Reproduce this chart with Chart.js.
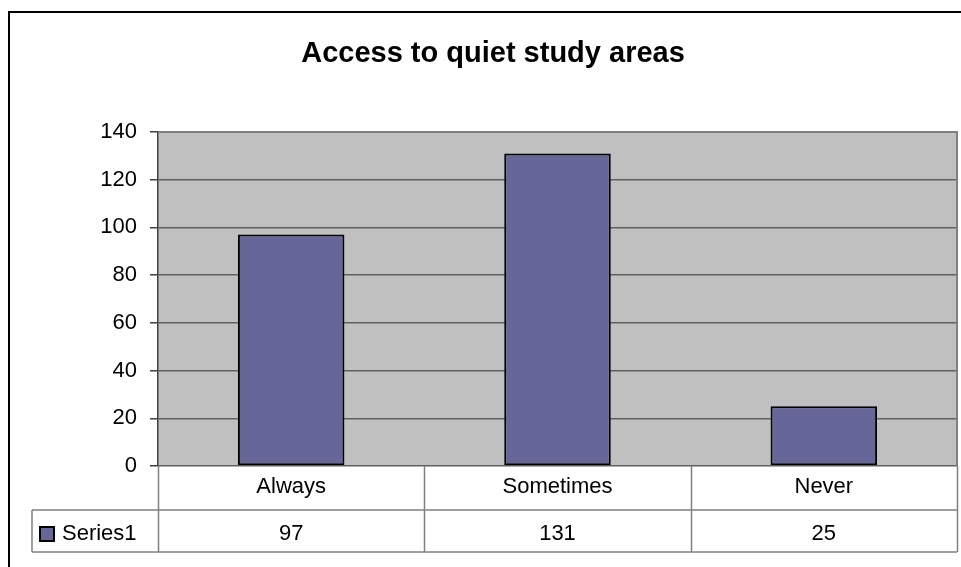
<!DOCTYPE html>
<html>
<head>
<meta charset="utf-8">
<script src="https://cdn.jsdelivr.net/npm/chart.js@4/dist/chart.umd.min.js"></script>
<style>
  html, body { margin: 0; padding: 0; background: #fff; }
  #chart { display: block; }
</style>
</head>
<body>
<canvas id="chart" width="961" height="567"></canvas>
<script>
const titleText = 'Access to quiet study areas';
const categories = ['Always', 'Sometimes', 'Never'];
const seriesName = 'Series1';
const series1 = [97, 131, 25];
const yTicks = [0, 20, 40, 60, 80, 100, 120, 140];

const FONT = 'Arial, "Liberation Sans", sans-serif';
const BAR = '#666699';

// grey plot area, data table, frame and title, Excel style
const excelLook = {
  id: 'excelLook',
  beforeDraw(chart) {
    const { ctx, chartArea: a } = chart;
    ctx.save();
    ctx.fillStyle = '#c0c0c0';
    ctx.fillRect(a.left, a.top, a.right - a.left, a.bottom - a.top);
    ctx.restore();
  },
  afterDraw(chart) {
    const { ctx, chartArea: a } = chart;
    const x = chart.scales.x;
    const step = (a.right - a.left) / categories.length;
    const row1 = a.bottom + 44;
    const row2 = a.bottom + 86;
    const tableLeft = 32;

    ctx.save();
    // plot border top / right
    ctx.strokeStyle = '#808080';
    ctx.lineWidth = 2;
    ctx.beginPath();
    ctx.moveTo(a.left, a.top);
    ctx.lineTo(a.right, a.top);
    ctx.lineTo(a.right, a.bottom);
    ctx.stroke();

    // table lines
    ctx.lineWidth = 1.5;
    ctx.strokeStyle = '#808080';
    ctx.beginPath();
    ctx.moveTo(tableLeft, row1); ctx.lineTo(a.right, row1);
    ctx.moveTo(tableLeft, row2); ctx.lineTo(a.right, row2);
    ctx.moveTo(tableLeft, row1); ctx.lineTo(tableLeft, row2);
    for (let i = 0; i <= categories.length; i++) {
      const px = Math.round(a.left + step * i) + 0.5;
      ctx.moveTo(px, a.bottom); ctx.lineTo(px, row2);
    }
    ctx.stroke();

    // table text
    ctx.fillStyle = '#000';
    ctx.font = '22px ' + FONT;
    ctx.textAlign = 'center';
    ctx.textBaseline = 'alphabetic';
    categories.forEach((c, i) => {
      const cx = x.getPixelForValue(i);
      ctx.fillText(c, cx, a.bottom + 27);
      ctx.fillText(String(series1[i]), cx, row2 - 12);
    });

    // legend key + series name
    ctx.fillStyle = BAR;
    ctx.fillRect(40, row1 + 17, 14, 14);
    ctx.strokeStyle = '#000';
    ctx.lineWidth = 2;
    ctx.strokeRect(40, row1 + 17, 14, 14);
    ctx.fillStyle = '#000';
    ctx.textAlign = 'left';
    ctx.fillText(seriesName, 62, row2 - 12);

    // title
    ctx.font = 'bold 29px ' + FONT;
    ctx.textAlign = 'center';
    ctx.fillText(titleText, 493, 62);

    // outer frame
    ctx.strokeStyle = '#000';
    ctx.lineWidth = 2;
    ctx.beginPath();
    ctx.moveTo(9, 600);
    ctx.lineTo(9, 12);
    ctx.lineTo(970, 12);
    ctx.stroke();
    ctx.restore();
  }
};

const chart = new Chart(document.getElementById('chart'), {
  type: 'bar',
  data: {
    labels: categories,
    datasets: [{
      label: seriesName,
      data: series1,
      backgroundColor: BAR,
      borderColor: '#000',
      borderWidth: 2,
      borderSkipped: false,
      barPercentage: 0.4,
      categoryPercentage: 1
    }]
  },
  options: {
    responsive: false,
    animation: false,
    layout: { padding: { left: 0, right: 4, top: 132, bottom: 101 } },
    plugins: {
      legend: { display: false },
      title: { display: false },
      tooltip: { enabled: false }
    },
    scales: {
      x: { display: false },
      y: {
        min: yTicks[0],
        max: yTicks[yTicks.length - 1],
        afterFit(s) { s.width = 158; },
        afterBuildTicks(s) { s.ticks = yTicks.map(v => ({ value: v })); },
        ticks: {
          color: '#000',
          font: { family: FONT, size: 22 },
          padding: 13
        },
        grid: {
          color: '#606060',
          lineWidth: 1.5,
          tickLength: 8,
          tickColor: '#404040'
        },
        border: { color: '#404040', width: 1.5 }
      }
    }
  },
  plugins: [excelLook]
});
</script>
</body>
</html>
